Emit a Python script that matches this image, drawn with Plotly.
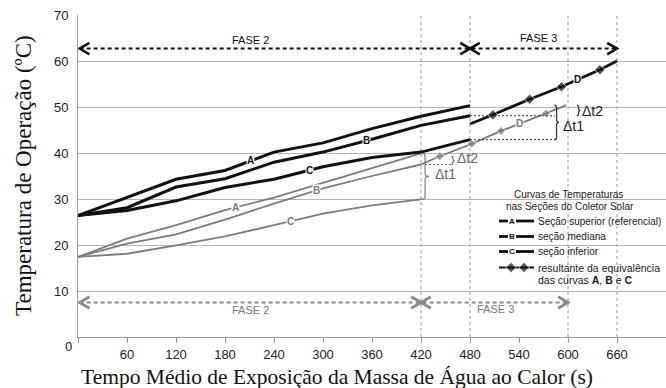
import numpy as np
import plotly.graph_objects as go

# ---------------- data ----------------
times = [0, 60, 120, 180, 240, 300, 360, 420, 480]
black_A = [26.4, 30.3, 34.3, 36.2, 40.2, 42.2, 45.3, 48.0, 50.3]
black_B = [26.4, 28.1, 32.6, 34.4, 38.0, 40.2, 43.0, 46.0, 48.1]
black_C = [26.4, 27.5, 29.6, 32.5, 34.3, 37.0, 39.0, 40.2, 42.9]

times_g = [0, 60, 120, 180, 240, 300, 360, 420]
gray_A = [17.4, 21.4, 24.3, 27.6, 30.3, 33.5, 36.8, 39.9]
gray_B = [17.4, 20.3, 22.3, 25.5, 29.0, 32.3, 35.0, 37.5]
gray_C = [17.4, 18.1, 19.9, 21.9, 24.3, 26.8, 28.6, 29.9]

gray_D_t = [420, 443, 482, 518, 573, 598]
gray_D = [37.5, 39.3, 42.0, 44.8, 48.6, 50.4]
black_D_t = [480, 508, 553, 592, 639, 660]
black_D = [46.3, 48.3, 51.7, 54.4, 58.1, 60.0]

x_ticks = [0, 60, 120, 180, 240, 300, 360, 420, 480, 540, 600, 660]
x_ticklabels = [""] + [str(v) for v in x_ticks[1:]]
y_ticks = [10, 20, 30, 40, 50, 60, 70]
phase_lines = [420, 480, 600, 660]

BLACK = "#111111"
GRAY = "#7c7c7c"
SANS = "Liberation Sans, Arial, sans-serif"
SERIF = "Liberation Serif, Times New Roman, serif"

# pixel helpers for the layout frame (l=78, t=15, 588x322 plot)
def px_x(px):
    return (px - 78) * 720.0 / 588.0

def px_y(py):
    return (337 - py) * 70.0 / 322.0

fig = go.Figure()

def add_line(x, y, color, width, sizes=None):
    if sizes is None:
        fig.add_trace(go.Scatter(x=x, y=y, mode="lines",
                                 line=dict(color=color, width=width),
                                 hoverinfo="skip", showlegend=False))
    else:
        fig.add_trace(go.Scatter(x=x, y=y, mode="lines+markers",
                                 line=dict(color=color, width=width),
                                 marker=dict(symbol="diamond", size=sizes, color=color),
                                 hoverinfo="skip", showlegend=False))

add_line(times_g, gray_A, GRAY, 1.8)
add_line(times_g, gray_B, GRAY, 1.8)
add_line(times_g, gray_C, GRAY, 1.8)
add_line(gray_D_t, gray_D, GRAY, 1.8, [0, 7, 7, 7, 7, 0])
add_line(times, black_A, BLACK, 3)
add_line(times, black_B, BLACK, 3)
add_line(times, black_C, BLACK, 3)
add_line(black_D_t, black_D, BLACK, 2.8, [0, 8, 8, 8, 8, 0])

shapes = []
annotations = []

# vertical phase lines
for xv in phase_lines:
    shapes.append(dict(type="line", xref="x", yref="y", x0=xv, x1=xv, y0=0, y1=70,
                       line=dict(color="#9a9a9a", width=1, dash="3px,3px"), layer="below"))

# curve labels
def curve_label(text, xs, ys, xpos, color):
    yv = float(np.interp(xpos, xs, ys))
    annotations.append(dict(x=xpos, y=yv, xref="x", yref="y", text="<b>%s</b>" % text,
                            showarrow=False, bgcolor="white", borderpad=0,
                            font=dict(family=SANS, size=10, color=color)))

curve_label("A", times, black_A, 211, BLACK)
curve_label("B", times, black_B, 353, BLACK)
curve_label("C", times, black_C, 284, BLACK)
curve_label("D", black_D_t, black_D, 612, BLACK)
curve_label("A", times_g, gray_A, 193, GRAY)
curve_label("B", times_g, gray_B, 292, GRAY)
curve_label("C", times_g, gray_C, 260, GRAY)
curve_label("D", gray_D_t, gray_D, 540, GRAY)

# phase arrows
def chevron(xtip, y, direction, color, width):
    dx = 12.0 * direction
    dy = 1.25
    shapes.append(dict(type="path", xref="x", yref="y",
                       path="M %f,%f L %f,%f L %f,%f" % (xtip + dx, y + dy, xtip, y, xtip + dx, y - dy),
                       line=dict(color=color, width=width)))

def dashed(x0, x1, y, color, width, dash="4px,3px"):
    shapes.append(dict(type="line", xref="x", yref="y", x0=x0, x1=x1, y0=y, y1=y,
                       line=dict(color=color, width=width, dash=dash)))

top_y = 62.7
dashed(2, 478, top_y, BLACK, 2)
dashed(482, 658, top_y, BLACK, 2)
chevron(2, top_y, 1, BLACK, 2.5)
chevron(480, top_y, -1, BLACK, 2.5)
chevron(480, top_y, 1, BLACK, 2.5)
chevron(660, top_y, -1, BLACK, 2.5)

bot_y = 7.5
dashed(2, 418, bot_y, "#8a8a8a", 2)
dashed(422, 598, bot_y, "#8a8a8a", 2)
chevron(2, bot_y, 1, "#8a8a8a", 2.8)
chevron(420, bot_y, -1, "#8a8a8a", 2.8)
chevron(420, bot_y, 1, "#8a8a8a", 2.8)
chevron(600, bot_y, -1, "#8a8a8a", 2.8)

def text(x, y, t, color, size=11, xanchor="center", family=SANS):
    annotations.append(dict(x=x, y=y, xref="x", yref="y", text=t, showarrow=False,
                            xanchor=xanchor, yanchor="middle",
                            font=dict(family=family, size=size, color=color)))

text(px_x(250), px_y(40), "FASE 2", BLACK)
text(px_x(538), px_y(38), "FASE 3", BLACK)
text(px_x(250), px_y(310), "FASE 2", "#7a7a7a")
text(px_x(495), px_y(309), "FASE 3", "#7a7a7a")

# braces
def brace(x, y0, y1, w, color, width=1.2):
    xm = x + w * 0.5
    xt = x + w
    ym = (y0 + y1) / 2.0
    r = 0.6
    p = ("M %f,%f Q %f,%f %f,%f L %f,%f Q %f,%f %f,%f Q %f,%f %f,%f L %f,%f Q %f,%f %f,%f"
         % (x, y1, xm, y1, xm, y1 - r, xm, ym + r, xm, ym, xt, ym,
            xm, ym, xm, ym - r, xm, y0 + r, xm, y0, x, y0))
    shapes.append(dict(type="path", xref="x", yref="y", path=p, line=dict(color=color, width=width)))

# phase 2 deltas (gray)
brace(420, gray_C[-1], gray_A[-1], 10, GRAY)
text(px_x(433), px_y(174), "Δt1", "#666666", 14, "left")
dashed(420, 459, gray_B[-1], GRAY, 1, "2px,2px")
brace(457, gray_B[-1], gray_D[1], 4, GRAY)
text(px_x(455), px_y(158), "Δt2", "#666666", 14, "left")

# phase 3 deltas (black)
dashed(480, 584, black_B[-1], "#333333", 1, "2px,2px")
dashed(480, 584, black_C[-1], "#333333", 1, "2px,2px")
brace(583, black_C[-1], gray_D[-1], 6, "#333333")
text(px_x(561), px_y(126), "Δt1", "#222222", 14, "left")
brace(611, black_B[-1], gray_D[-1], 4, "#333333")
text(px_x(580), px_y(111), "Δt2", "#222222", 14, "left")

# manual legend
text(px_x(568), px_y(194), "Curvas de Temperaturas", "#1a1a1a", 10)
text(px_x(570), px_y(206), "nas Seções do Coletor Solar", "#1a1a1a", 10)
leg_rows = [("A", "Seção superior (referencial)", 221),
            ("B", "seção mediana", 236.5),
            ("C", "seção inferior", 251.5)]
for letter, label, py in leg_rows:
    yv = px_y(py)
    shapes.append(dict(type="line", xref="x", yref="y", x0=px_x(499), x1=px_x(508), y0=yv, y1=yv,
                       line=dict(color=BLACK, width=2.8)))
    shapes.append(dict(type="line", xref="x", yref="y", x0=px_x(516), x1=px_x(534), y0=yv, y1=yv,
                       line=dict(color=BLACK, width=2.8)))
    text(px_x(512), yv, "<b>%s</b>" % letter, BLACK, 8)
    text(px_x(536), yv, label, "#1a1a1a", 10, "left")

yv = px_y(267.5)
fig.add_trace(go.Scatter(x=[px_x(499), px_x(511), px_x(524), px_x(534)], y=[yv] * 4,
                         mode="lines+markers", line=dict(color=BLACK, width=2),
                         marker=dict(symbol="diamond", size=[0, 8, 8, 0], color=BLACK),
                         hoverinfo="skip", showlegend=False))
text(px_x(536), yv, "resultante da equivalência", "#1a1a1a", 10.5, "left")
text(px_x(536), px_y(279.5), "das curvas <b>A</b>, <b>B</b> e <b>C</b>", "#1a1a1a", 10.5, "left")

# axis titles and lone zero
annotations.append(dict(xref="paper", yref="paper", x=(23 - 78) / 588.0, y=0.5,
                        text="Temperatura de Operação (ºC)", textangle=-90, showarrow=False,
                        xanchor="center", yanchor="middle",
                        font=dict(family=SERIF, size=23, color="#111111")))
annotations.append(dict(xref="paper", yref="paper", x=(337 - 78) / 588.0, y=(337 - 377) / 322.0,
                        text="Tempo Médio de Exposição da Massa de Água ao Calor (s)", showarrow=False,
                        xanchor="center", yanchor="middle",
                        font=dict(family=SERIF, size=21.5, color="#111111")))
annotations.append(dict(xref="paper", yref="paper", x=(68 - 78) / 588.0, y=(337 - 346) / 322.0,
                        text="0", showarrow=False, xanchor="center", yanchor="middle",
                        font=dict(family=SANS, size=13, color="#222222")))

fig.update_layout(
    width=666, height=388,
    margin=dict(l=78, r=0, t=15, b=51),
    paper_bgcolor="white", plot_bgcolor="white",
    shapes=shapes, annotations=annotations,
    xaxis=dict(range=[0, 720], tickvals=x_ticks, ticktext=x_ticklabels,
               showgrid=False, zeroline=False, showline=True, linecolor="#9a9a9a", linewidth=1,
               ticks="outside", ticklen=5, tickcolor="#9a9a9a",
               tickfont=dict(family=SANS, size=13, color="#222222")),
    yaxis=dict(range=[0, 70], tickvals=y_ticks, showgrid=True, gridcolor="#b5b5b5", gridwidth=1,
               zeroline=False, showline=True, linecolor="#9a9a9a", linewidth=1, ticks="",
               ticklabelstandoff=6,
               tickfont=dict(family=SANS, size=13, color="#222222")),
)

fig.write_html("out.html")
